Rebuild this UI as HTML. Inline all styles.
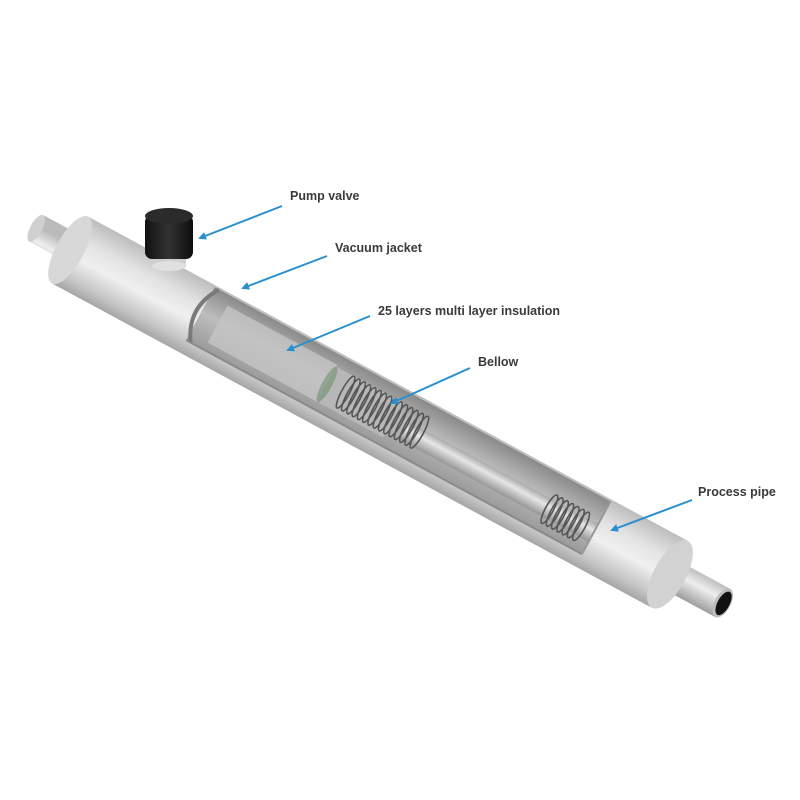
<!DOCTYPE html>
<html><head><meta charset="utf-8"><style>
html,body{margin:0;padding:0;background:#fff;width:800px;height:800px;overflow:hidden}
text{font-family:"Liberation Sans",sans-serif;font-size:12.5px;fill:#3a3a3a;font-weight:bold}
</style></head><body>
<svg width="800" height="800" viewBox="0 0 800 800">
<defs>
<linearGradient id="jk" gradientUnits="userSpaceOnUse" x1="0" y1="-38" x2="0" y2="38">
<stop offset="0" stop-color="#bdbdbd"/><stop offset="0.3" stop-color="#e2e2e2"/><stop offset="0.55" stop-color="#f0f0f0"/><stop offset="0.85" stop-color="#c4c4c4"/><stop offset="1" stop-color="#a5a5a5"/></linearGradient>
<linearGradient id="sp" gradientUnits="userSpaceOnUse" x1="0" y1="-17" x2="0" y2="17">
<stop offset="0" stop-color="#bbb"/><stop offset="0.4" stop-color="#eee"/><stop offset="1" stop-color="#999"/></linearGradient>
<linearGradient id="in" gradientUnits="userSpaceOnUse" x1="0" y1="-36" x2="0" y2="26">
<stop offset="0" stop-color="#8a8a8a"/><stop offset="0.45" stop-color="#bdbdbd"/><stop offset="1" stop-color="#999"/></linearGradient>
<linearGradient id="ip" gradientUnits="userSpaceOnUse" x1="0" y1="-12" x2="0" y2="12">
<stop offset="0" stop-color="#999"/><stop offset="0.4" stop-color="#e6e6e6"/><stop offset="1" stop-color="#888"/></linearGradient>
<linearGradient id="cap" x1="0" y1="0" x2="1" y2="0">
<stop offset="0" stop-color="#111"/><stop offset="0.5" stop-color="#333"/><stop offset="1" stop-color="#0d0d0d"/></linearGradient>
<marker id="ar" markerWidth="8" markerHeight="8" refX="6" refY="4" orient="auto" markerUnits="userSpaceOnUse"><path d="M0,0 L8,4 L0,8 z" fill="#2a8fcf"/></marker>
</defs>
<g transform="translate(70,250) rotate(28.4)">
 <rect x="-40" y="-30" width="45" height="30" fill="url(#sp)" transform="translate(0,12)"/>
 <ellipse cx="-40" cy="-3" rx="6" ry="15" fill="#d0d0d0"/>
 <rect x="670" y="-16" width="72" height="32" fill="url(#sp)"/>
 <ellipse cx="742" cy="0" rx="8" ry="16" fill="#bbb"/>
 <ellipse cx="743" cy="0" rx="6" ry="13" fill="#111"/>
 <rect x="0" y="-38" width="682" height="76" fill="url(#jk)"/>
 <ellipse cx="0" cy="0" rx="14" ry="38" fill="#d8d8d8"/>
 <ellipse cx="682" cy="0" rx="16" ry="38" fill="#d2d2d2"/>
 <path d="M145,-36 L595,-36 L595,24 L145,24 Z" fill="url(#in)"/>
 <path d="M150,-36 Q130,-6 150,24" fill="none" stroke="#7a7a7a" stroke-width="4"/>
 <rect x="165" y="-26" width="125" height="42" fill="#c4c4c4" opacity="0.8"/>
 <rect x="290" y="-24" width="75" height="40" fill="#b7b7b7"/>
 <ellipse cx="290" cy="-4" rx="5" ry="20" fill="#6a8a6a" opacity="0.55"/>
 <rect x="380" y="-10" width="215" height="20" fill="url(#ip)"/>
 <g fill="none" stroke="#555" stroke-width="1.6">
  <ellipse cx="310" cy="-6" rx="4" ry="18"/><ellipse cx="316" cy="-6" rx="4" ry="18"/><ellipse cx="322" cy="-6" rx="4" ry="18"/><ellipse cx="328" cy="-6" rx="4" ry="18"/><ellipse cx="334" cy="-6" rx="4" ry="18"/><ellipse cx="340" cy="-6" rx="4" ry="18"/><ellipse cx="346" cy="-6" rx="4" ry="18"/><ellipse cx="352" cy="-6" rx="4" ry="18"/><ellipse cx="358" cy="-6" rx="4" ry="18"/><ellipse cx="364" cy="-6" rx="4" ry="18"/><ellipse cx="370" cy="-6" rx="4" ry="18"/><ellipse cx="376" cy="-6" rx="4" ry="18"/><ellipse cx="382" cy="-6" rx="4" ry="18"/><ellipse cx="388" cy="-6" rx="4" ry="18"/><ellipse cx="394" cy="-6" rx="4" ry="18"/>
  <ellipse cx="545" cy="0" rx="4" ry="16"/><ellipse cx="551" cy="0" rx="4" ry="16"/><ellipse cx="557" cy="0" rx="4" ry="16"/><ellipse cx="563" cy="0" rx="4" ry="16"/><ellipse cx="569" cy="0" rx="4" ry="16"/><ellipse cx="575" cy="0" rx="4" ry="16"/><ellipse cx="581" cy="0" rx="4" ry="16"/>
 </g>
 <path d="M145,24 L595,24" stroke="#8a8a8a" stroke-width="2"/>
 <path d="M595,-36 L595,24" stroke="#999" stroke-width="2"/>
</g>
<!-- pump valve -->
<rect x="152" y="252" width="34" height="14" fill="#cfcfcf"/>
<ellipse cx="169" cy="266" rx="17" ry="5" fill="#e0e0e0"/>
<rect x="145" y="215" width="48" height="44" rx="7" fill="url(#cap)"/>
<ellipse cx="169" cy="216" rx="24" ry="8" fill="#2b2b2b"/>
<g stroke="#2a8fcf" stroke-width="2" marker-end="url(#ar)">
 <line x1="282" y1="206" x2="200" y2="238"/>
 <line x1="327" y1="256" x2="243" y2="288"/>
 <line x1="370" y1="316" x2="288" y2="350"/>
 <line x1="470" y1="368" x2="392" y2="403"/>
 <line x1="692" y1="500" x2="612" y2="530"/>
</g>
<text x="290" y="200">Pump valve</text>
<text x="335" y="252">Vacuum jacket</text>
<text x="378" y="315">25 layers multi layer insulation</text>
<text x="478" y="366">Bellow</text>
<text x="698" y="496">Process pipe</text>
</svg>
</body></html>
